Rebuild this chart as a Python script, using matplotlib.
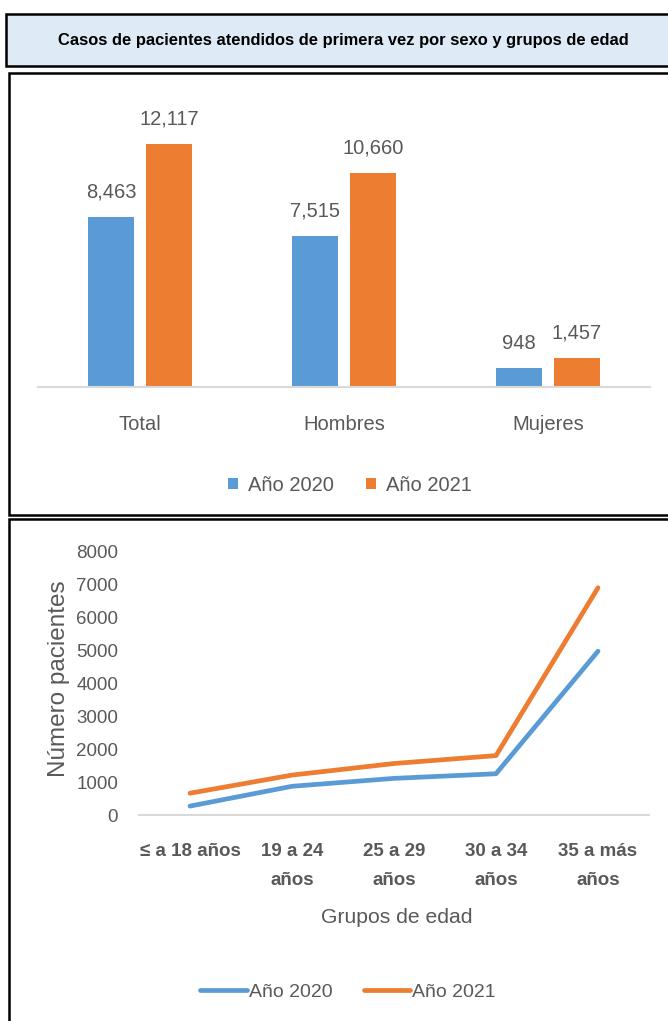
import matplotlib
matplotlib.use("Agg")
import matplotlib.pyplot as plt
from matplotlib.patches import Rectangle
import numpy as np

plt.rcParams['font.family'] = ['Liberation Sans Narrow', 'Liberation Sans', 'DejaVu Sans']

# data
title = "Casos de pacientes atendidos de primera vez por sexo y grupos de edad"
series_names = ["Año 2020", "Año 2021"]
sex_groups = ["Total", "Hombres", "Mujeres"]
sex_2020 = [8463, 7515, 948]
sex_2021 = [12117, 10660, 1457]

age_groups = ["≤ a 18 años", "19 a 24\naños", "25 a 29\naños", "30 a 34\naños", "35 a más\naños"]
age_2020 = [270, 870, 1110, 1250, 4963]
age_2021 = [660, 1210, 1560, 1800, 6887]

BLUE = "#5B9BD5"
ORANGE = "#ED7D31"
GREY_TXT = "#595959"
GREY_AX = "#D9D9D9"

W, H = 668, 1021
fig = plt.figure(figsize=(W / 100, H / 100), dpi=100)

def fx(px):
    return px / W

def fy(py):
    return 1 - py / H

# boxes (pixel coordinates from the top)
def box(x0, y0, x1, y1, fill):
    fig.patches.append(Rectangle((fx(x0), fy(y1)), fx(x1 - x0), (y1 - y0) / H,
                                 transform=fig.transFigure, facecolor=fill,
                                 edgecolor="black", linewidth=1.8, zorder=-5))

box(6, 14, 700, 66, "#DEEBF7")
box(9, 73, 700, 515, "white")
box(9, 519, 700, 1060, "white")

fig.text(fx(343), fy(40), title, ha="center", va="center", fontsize=11.9,
         fontweight="bold", color="black")

# bar chart
ax1 = fig.add_axes([fx(38), fy(387), fx(650 - 38), (387 - 106) / H])
ax1.patch.set_alpha(0)
x = np.arange(len(sex_groups))
bw = 0.225
off = 0.142
b1 = ax1.bar(x - off, sex_2020, bw, color=BLUE, label=series_names[0])
b2 = ax1.bar(x + off, sex_2021, bw, color=ORANGE, label=series_names[1])
for bars, vals in ((b1, sex_2020), (b2, sex_2021)):
    for r, v in zip(bars, vals):
        ax1.annotate(f"{v:,}", (r.get_x() + r.get_width() / 2, v), xytext=(0, 11),
                     textcoords="offset points", ha="center", va="bottom",
                     fontsize=14.5, color=GREY_TXT)
ax1.set_xlim(-0.5, 2.5)
ax1.set_ylim(0, 14000)
ax1.set_xticks(x)
ax1.set_xticklabels(sex_groups, fontsize=14.5, color=GREY_TXT)
ax1.tick_params(axis="x", length=0, pad=20)
ax1.set_yticks([])
for s in ("top", "right", "left"):
    ax1.spines[s].set_visible(False)
ax1.spines["bottom"].set_color(GREY_AX)
ax1.spines["bottom"].set_linewidth(1.5)
ax1.legend(loc="center", bbox_to_anchor=(fx(350), fy(485)), bbox_transform=fig.transFigure,
           ncol=2, frameon=False, fontsize=14.5, labelcolor=GREY_TXT,
           handlelength=0.5, handleheight=0.5, handletextpad=0.5, columnspacing=1.6)

# line chart
ax2 = fig.add_axes([fx(139), fy(815), fx(649 - 139), (815 - 551) / H])
ax2.patch.set_alpha(0)
xa = np.arange(len(age_groups))
ax2.plot(xa, age_2020, color=BLUE, linewidth=3.4, solid_capstyle="round",
         solid_joinstyle="round", label=series_names[0])
ax2.plot(xa, age_2021, color=ORANGE, linewidth=3.4, solid_capstyle="round",
         solid_joinstyle="round", label=series_names[1])
ax2.set_xlim(-0.5, 4.5)
ax2.set_ylim(0, 8000)
ax2.set_yticks(range(0, 8001, 1000))
ax2.set_yticklabels([str(v) for v in range(0, 8001, 1000)], fontsize=13.5, color=GREY_TXT)
ax2.set_xticks(xa)
ax2.set_xticklabels(age_groups, fontsize=13.5, color=GREY_TXT, fontweight="bold",
                    linespacing=1.95, va="top")
ax2.tick_params(axis="both", length=0)
ax2.tick_params(axis="y", pad=15)
ax2.tick_params(axis="x", pad=20)
for s in ("top", "right", "left"):
    ax2.spines[s].set_visible(False)
ax2.spines["bottom"].set_color(GREY_AX)
ax2.spines["bottom"].set_linewidth(1.5)
ax2.set_ylabel("Número pacientes", fontsize=17.5, color=GREY_TXT)
ax2.yaxis.set_label_coords(fx(70), fy(679), transform=fig.transFigure)
ax2.set_xlabel("Grupos de edad", fontsize=15.2, color=GREY_TXT)
ax2.xaxis.set_label_coords(fx(397), fy(908), transform=fig.transFigure)
ax2.legend(loc="center", bbox_to_anchor=(fx(348), fy(992)), bbox_transform=fig.transFigure,
           ncol=2, frameon=False, fontsize=14, labelcolor=GREY_TXT,
           handlelength=2.4, handletextpad=0.1, columnspacing=1.6)

fig.savefig("out.png", dpi=100)
